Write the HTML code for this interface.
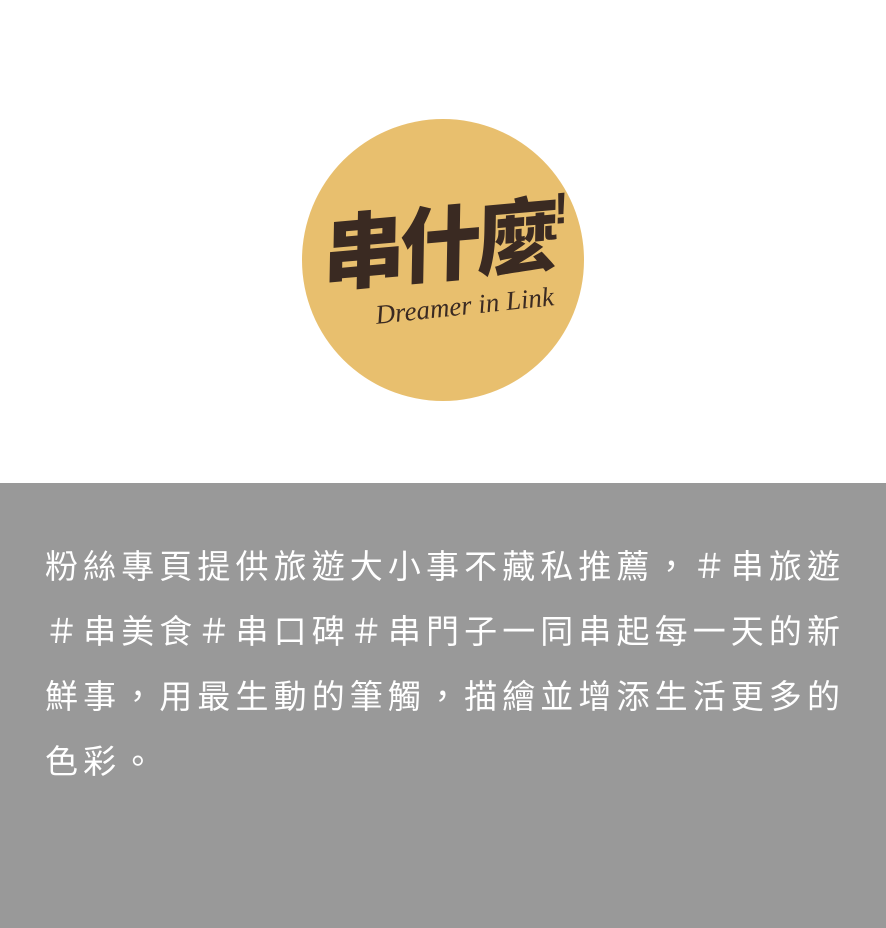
<!DOCTYPE html>
<html><head><meta charset="utf-8"><style>
html,body{margin:0;padding:0;width:886px;height:928px;overflow:hidden;background:#fff;}
#top{position:absolute;left:0;top:0;width:886px;height:483px;background:#fff;}
#circle{position:absolute;left:302px;top:119px;width:282px;height:282px;border-radius:50%;background:#e8bf6e;}
#logo{position:absolute;left:324px;top:208px;font-family:"Noto Sans CJK TC","WenQuanYi Zen Hei",sans-serif;font-weight:900;font-size:82px;color:#3a2a22;transform:rotate(-5deg) skewX(-6deg);transform-origin:left top;letter-spacing:-5px;line-height:1;white-space:nowrap;}
#logo span{font-size:44px;vertical-align:top;font-family:"Liberation Sans",sans-serif;}
#tag{position:absolute;left:374px;top:300px;font-family:"Liberation Serif",serif;font-style:italic;font-size:27px;color:#3a2a22;transform:rotate(-6deg);transform-origin:left top;white-space:nowrap;}
#bottom{position:absolute;left:0;top:483px;width:886px;height:445px;background:#999999;}
#desc{position:absolute;left:45px;top:51px;width:820px;margin:0;font-family:"Liberation Sans","Noto Sans CJK TC",sans-serif;font-size:33px;line-height:65px;letter-spacing:5.1px;color:#fff;}
</style></head><body>
<div id="top">
<div id="circle"></div>
<div id="logo">串什麼<span>!</span></div>
<div id="tag">Dreamer in Link</div>
</div>
<div id="bottom">
<p id="desc">粉絲專頁提供旅遊大小事不藏私推薦，＃串旅遊＃串美食＃串口碑＃串門子一同串起每一天的新鮮事，用最生動的筆觸，描繪並增添生活更多的色彩。</p>
</div>
</body></html>
